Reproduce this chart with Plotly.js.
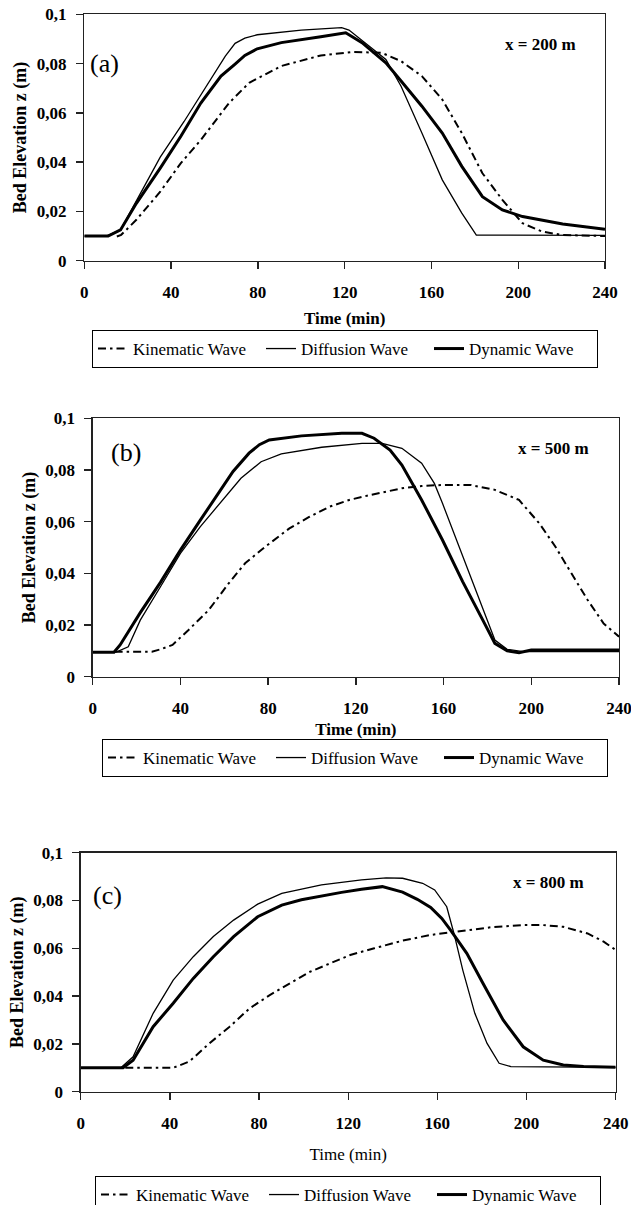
<!DOCTYPE html>
<html><head><meta charset="utf-8">
<script src="https://cdn.plot.ly/plotly-3.0.1.min.js"></script>
<style>html,body{margin:0;padding:0;background:#fff}#chart{width:631px;height:1205px}</style>
</head><body><div id="chart"></div>
<script>
// ---------- Data ----------
const seriesNames = ['Kinematic Wave', 'Diffusion Wave', 'Dynamic Wave'];
const xTickVals = [0, 40, 80, 120, 160, 200, 240];
const xTickText = ['0', '40', '80', '120', '160', '200', '240'];
const yTickVals = [0, 0.02, 0.04, 0.06, 0.08, 0.1];
const yTickText = ['0', '0,02', '0,04', '0,06', '0,08', '0,1'];
const panelLabels = ['(a)', '(b)', '(c)'];
const positionLabels = ['x = 200 m', 'x = 500 m', 'x = 800 m'];
const xTitle = 'Time (min)';
const yTitle = 'Bed Elevation z (m)';

// Panel (a) x = 200 m
const tA_kin = [15, 17, 24, 35, 44.5, 53.7, 66.7, 76, 90.8, 109, 124, 137, 146, 155.6, 165, 174, 183.5, 192.7, 202, 211, 220.5, 240];
const zA_kin = [0.0098, 0.0105, 0.0166, 0.028, 0.0396, 0.049, 0.064, 0.0722, 0.079, 0.0833, 0.0847, 0.0844, 0.081, 0.0749, 0.0654, 0.0518, 0.0355, 0.0247, 0.0152, 0.0118, 0.0104, 0.01];
const tA_dif = [0, 10, 16.7, 35, 46, 59, 65, 69.5, 74, 79.7, 100, 118.6, 122, 139, 146, 155.6, 165, 174, 180.7, 240];
const zA_dif = [0.01, 0.01, 0.0125, 0.042, 0.0565, 0.075, 0.083, 0.0882, 0.0903, 0.0917, 0.0936, 0.0946, 0.0936, 0.0817, 0.0708, 0.0518, 0.0328, 0.0193, 0.0104, 0.0103];
const tA_dyn = [0, 11, 16.7, 24, 35, 44.5, 53.7, 63, 69.5, 74, 79.7, 90.8, 109, 120.5, 128, 139, 146, 155.6, 165, 174, 183.5, 192.7, 202, 220.5, 240];
const zA_dyn = [0.01, 0.01, 0.0125, 0.0233, 0.0376, 0.0505, 0.064, 0.0749, 0.0798, 0.0833, 0.086, 0.0885, 0.0909, 0.0925, 0.0885, 0.0803, 0.0729, 0.0627, 0.0518, 0.0383, 0.026, 0.0206, 0.0179, 0.0149, 0.0128];

// Panel (b) x = 500 m
const tB_kin = [10, 27, 30.9, 36.4, 43.7, 52.9, 62, 69.5, 78.7, 89.7, 98.9, 108, 117, 126.4, 141, 150, 159.5, 172.4, 183.4, 194.4, 203.6, 211, 218.3, 225.7, 233, 240];
const zB_kin = [0.0097, 0.0097, 0.0106, 0.0123, 0.0181, 0.0258, 0.0361, 0.0439, 0.0503, 0.0574, 0.0619, 0.0658, 0.0684, 0.0703, 0.0729, 0.0738, 0.0742, 0.0742, 0.0723, 0.0684, 0.0594, 0.0503, 0.04, 0.0297, 0.0206, 0.0155];
const tB_dif = [0, 10.7, 16.2, 21.7, 30.9, 40, 49, 58.4, 67.6, 76.8, 86, 104.4, 122.8, 132, 141, 150, 155.8, 159.5, 168.7, 177.9, 183.4, 189, 196.3, 240];
const zB_dif = [0.0095, 0.0095, 0.0116, 0.0219, 0.0348, 0.0477, 0.058, 0.0677, 0.0768, 0.0832, 0.0862, 0.0888, 0.0903, 0.0903, 0.0884, 0.0826, 0.0748, 0.0671, 0.0465, 0.0258, 0.0142, 0.0106, 0.0097, 0.0097];
const tB_dyn = [0, 9.7, 12.5, 21.7, 30.9, 40, 49, 58.4, 64, 71.3, 76, 80.5, 95.2, 113.6, 122.8, 128.3, 135.6, 141, 150, 159.5, 168.7, 177.9, 183.4, 189, 194.4, 200, 240];
const zB_dyn = [0.0095, 0.0095, 0.0123, 0.0248, 0.0365, 0.049, 0.0605, 0.0723, 0.0794, 0.0865, 0.0898, 0.0916, 0.0932, 0.0942, 0.0942, 0.0923, 0.0877, 0.0819, 0.0684, 0.0529, 0.0368, 0.0219, 0.0129, 0.01, 0.0093, 0.0103, 0.0103];

// Panel (c) x = 800 m
const tC_kin = [20, 41.5, 48.7, 57.7, 66.8, 75.8, 84.8, 93.8, 102.9, 111.9, 120.9, 131.7, 144.4, 157, 171.4, 184, 198.5, 207.5, 216.5, 227.4, 234.6, 240];
const zC_kin = [0.01, 0.01, 0.0126, 0.0202, 0.0272, 0.0349, 0.0404, 0.0453, 0.0502, 0.0537, 0.0572, 0.06, 0.0632, 0.0656, 0.0674, 0.0688, 0.0697, 0.0697, 0.069, 0.0662, 0.0628, 0.0593];
const tC_dif = [0, 18, 23.5, 32.5, 41.5, 50.5, 59.5, 68.6, 79.4, 90.2, 108, 126, 137, 144.4, 153.4, 158.8, 164.2, 167.5, 171.4, 176.8, 182.3, 187.7, 193, 207.5, 240];
const zC_dif = [0.01, 0.01, 0.0146, 0.0328, 0.0467, 0.0565, 0.0649, 0.0718, 0.0785, 0.083, 0.0865, 0.0886, 0.0895, 0.0893, 0.0872, 0.0844, 0.0774, 0.066, 0.0509, 0.0328, 0.0202, 0.0119, 0.0105, 0.0105, 0.0102];
const tC_dyn = [0, 19, 23.5, 32.5, 41.5, 50.5, 59.5, 68.6, 79.4, 90.2, 99, 108, 117, 126, 135.3, 144.4, 151, 157, 162, 166, 173.2, 180.5, 189.5, 198.5, 207.5, 216.5, 225.6, 240];
const zC_dyn = [0.01, 0.01, 0.0132, 0.0272, 0.037, 0.0474, 0.0565, 0.0649, 0.0732, 0.0781, 0.0803, 0.0819, 0.0834, 0.0847, 0.0858, 0.0835, 0.0805, 0.0771, 0.0725, 0.0675, 0.0579, 0.0453, 0.03, 0.0188, 0.0132, 0.0112, 0.0105, 0.0102];

// ---------- Build ----------
const W = 631, H = 1205;
const FONT = '"Liberation Serif", "Times New Roman", Times, serif';
const fx = px => px / W;
const fy = py => 1 - py / H;

const panels = [
  {data: [[tA_kin, zA_kin], [tA_dif, zA_dif], [tA_dyn, zA_dyn]], box: [84.3, 605, 14.3, 260.7],
   legend: [92, 330], lab: [104, 63], pos: [540, 45], xtBold: true, xStand: 10, yStand: 5},
  {data: [[tB_kin, zB_kin], [tB_dif, zB_dif], [tB_dyn, zB_dyn]], box: [92.7, 619, 418.3, 676.7],
   legend: [102, 739], lab: [126, 452], pos: [553, 448], xtBold: true, xStand: 5, yStand: 5},
  {data: [[tC_kin, zC_kin], [tC_dif, zC_dif], [tC_dyn, zC_dyn]], box: [80.7, 615.7, 852.7, 1091.7],
   legend: [95, 1176], lab: [107, 895], pos: [548, 883], xtBold: false, xStand: 15, yStand: 5}
];

const styles = [
  {width: 2, dash: '8px,4px,2.5px,4px'},
  {width: 1.3, dash: 'solid'},
  {width: 3, dash: 'solid'}
];

const traces = [];
const layout = {
  width: W, height: H,
  margin: {l: 0, r: 0, t: 0, b: 0, autoexpand: false},
  paper_bgcolor: '#fff', plot_bgcolor: '#fff',
  font: {family: FONT, color: '#000'},
  annotations: []
};

panels.forEach((p, i) => {
  const n = i === 0 ? '' : String(i + 1);
  const legId = 'legend' + n;
  p.data.forEach((d, j) => {
    traces.push({
      type: 'scatter', mode: 'lines', x: d[0], y: d[1],
      xaxis: 'x' + n, yaxis: 'y' + n,
      name: seriesNames[j], legend: legId,
      line: {color: '#000', width: styles[j].width, dash: styles[j].dash},
      hoverinfo: 'skip'
    });
  });
  const [x0, x1, y0, y1] = p.box;
  const common = {
    showline: true, linecolor: '#222', linewidth: 1.3, mirror: true,
    ticks: 'outside', ticklen: 7, tickcolor: '#222', tickwidth: 1.3,
    showgrid: false, zeroline: false, fixedrange: true,
    ticklabeloverflow: 'allow',
    tickfont: {family: FONT, size: 17, color: '#000', weight: 'bold'}
  };
  layout['xaxis' + n] = Object.assign({}, common, {
    domain: [fx(x0), fx(x1)], anchor: 'y' + n, range: [0, 240],
    tickmode: 'array', tickvals: xTickVals, ticktext: xTickText,
    ticklabelstandoff: 9,
    title: {text: xTitle, standoff: p.xStand,
      font: {family: FONT, size: 17, color: '#000', weight: p.xtBold ? 'bold' : 'normal'}}
  });
  layout['yaxis' + n] = Object.assign({}, common, {
    domain: [fy(y1), fy(y0)], anchor: 'x' + n, range: [0, 0.1],
    tickmode: 'array', tickvals: yTickVals, ticktext: yTickText,
    ticklabelstandoff: 6,
    title: {text: yTitle, standoff: p.yStand,
      font: {family: FONT, size: 18, color: '#000', weight: 'bold'}}
  });
  layout[legId] = {
    x: fx(p.legend[0]), y: fy(p.legend[1]), xanchor: 'left', yanchor: 'top',
    orientation: 'h', bordercolor: '#000', borderwidth: 1, bgcolor: '#fff',
    entrywidth: 123, entrywidthmode: 'pixels',
    font: {family: FONT, size: 17, color: '#000'}
  };
  layout.annotations.push({
    xref: 'paper', yref: 'paper', x: fx(p.lab[0]), y: fy(p.lab[1]),
    xanchor: 'center', yanchor: 'middle', showarrow: false, text: panelLabels[i],
    font: {family: FONT, size: 26, color: '#000'}
  });
  layout.annotations.push({
    xref: 'paper', yref: 'paper', x: fx(p.pos[0]), y: fy(p.pos[1]),
    xanchor: 'center', yanchor: 'middle', showarrow: false, text: positionLabels[i],
    font: {family: FONT, size: 17, color: '#000', weight: 'bold'}
  });
});

Plotly.newPlot('chart', traces, layout, {staticPlot: true, displayModeBar: false});
</script></body></html>
